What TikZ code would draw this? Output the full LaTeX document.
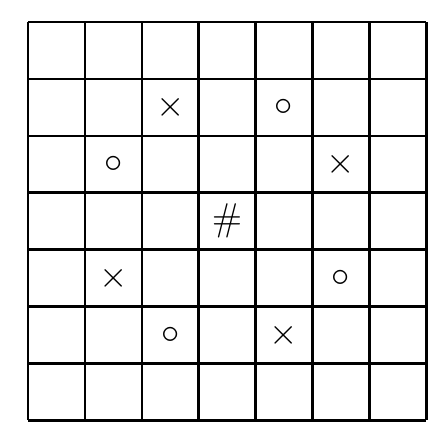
\documentclass[tikz,border=0pt]{standalone}
\begin{document}
\begin{tikzpicture}[x=0.02cm,y=-0.02cm,
  gridline/.style={line width=0.05cm,black},
  sym/.style={inner sep=0pt,font=\fontsize{22}{26}\selectfont}]
\useasboundingbox (0,0) rectangle (446,434);
\foreach \i in {0,...,7}{
  \draw[gridline] (28+56.9*\i,22) -- (28+56.9*\i,420);
  \draw[gridline] (28,22+56.9*\i) -- (426,22+56.9*\i);
}
\node[sym] (x1) at (28+56.9*2.5,22+56.9*1.5) {$\times$};
\node[sym] (o1) at (28+56.9*4.5,22+56.9*1.5) {$\circ$};
\node[sym] (o2) at (28+56.9*1.5,22+56.9*2.5) {$\circ$};
\node[sym] (x2) at (28+56.9*5.5,22+56.9*2.5) {$\times$};
\node[sym] (h) at (28+56.9*3.5,22+56.9*3.5) {\#};
\node[sym] (x3) at (28+56.9*1.5,22+56.9*4.5) {$\times$};
\node[sym] (o3) at (28+56.9*5.5,22+56.9*4.5) {$\circ$};
\node[sym] (o4) at (28+56.9*2.5,22+56.9*5.5) {$\circ$};
\node[sym] (x4) at (28+56.9*4.5,22+56.9*5.5) {$\times$};
\end{tikzpicture}
\end{document}
